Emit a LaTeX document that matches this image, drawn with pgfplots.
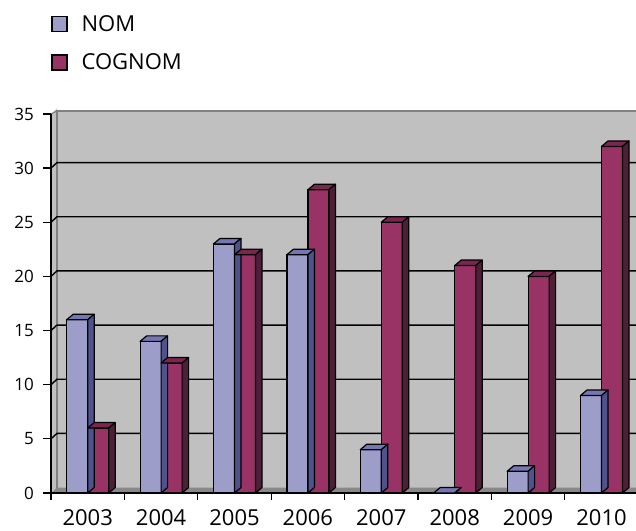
\documentclass[border=0pt]{standalone}
\usepackage{pgfplots}
\usepackage{pgfplotstable}
\pgfplotsset{compat=1.18}
\usepackage{fontspec}
\setmainfont{Open Sans}

\definecolor{nomfront}{RGB}{157,157,202}
\definecolor{nomtop}{RGB}{118,118,180}
\definecolor{nomside}{RGB}{80,82,140}
\definecolor{cogfront}{RGB}{153,51,102}
\definecolor{cogtop}{RGB}{122,38,80}
\definecolor{cogside}{RGB}{78,32,56}
\definecolor{wall}{RGB}{192,192,192}
\definecolor{walledge}{RGB}{128,128,128}
\definecolor{floorc}{RGB}{136,136,136}

\pgfplotstableread{
idx year nom cognom
0 2003 16 6
1 2004 14 12
2 2005 23 22
3 2006 22 28
4 2007 4 25
5 2008 0 21
6 2009 2 20
7 2010 9 32
}\data

\pgfdeclareplotmark{none3d}{}

\pgfplotsset{
  bar3d/.style n args={4}{% #1 column, #2 left edge (pt), #3 top colour, #4 side colour
    scatter, only marks, mark=none3d, forget plot,
    visualization depends on={\thisrow{#1} \as \yv},
    scatter/@pre marker code/.code={%
      \pgfmathsetmacro{\hh}{\yv*10.83}%
      \filldraw[fill=#3, draw=black, line width=1.2pt, line join=round]
        (#2pt,0pt) -- ++(6.5pt,5.5pt) -- ++(21pt,0pt) -- ++(-6.5pt,-5.5pt) -- cycle;
      \filldraw[fill=#4, draw=black, line width=1.2pt, line join=round]
        (#2pt+21pt,0pt) -- ++(6.5pt,5.5pt) -- ++(0pt,-\hh pt) -- ++(-6.5pt,-5.5pt) -- cycle;
    },
    scatter/@post marker code/.code={},
  }
}

\begin{document}
\begin{tikzpicture}
\begin{axis}[
  at={(0,0)}, anchor=south west,
  x=73.4pt, y=10.83pt,
  xmin=-0.5, xmax=7.5, ymin=0, ymax=35,
  clip=false,
  axis on top,
  axis x line*=bottom, axis y line*=left,
  axis line style={black, line width=1.2pt, -},
  ytick={0,5,...,35},
  xtick={0,...,7},
  xticklabels={2003,2004,2005,2006,2007,2008,2009,2010},
  x tick style={draw=none},
  y tick style={black, line width=1.2pt},
  tick align=outside,
  major tick length=8pt,
  extra x ticks={-0.5,0.5,...,7.5},
  extra x tick labels={},
  extra x tick style={tick align=outside, major tick length=7pt, x tick style={draw=black, line width=1.2pt}},
  /pgf/number format/assume math mode=true,
  yticklabel style={font=\fontsize{17}{17}\selectfont, inner sep=0pt, xshift=-9pt},
  xticklabel style={font=\fontsize{22}{22}\selectfont, inner sep=0pt, yshift=-8pt},
  legend style={at={(0,1.266)}, anchor=north west, draw=none, fill=none,
    inner sep=0pt, row sep=17pt, font=\fontsize{22}{22}\selectfont,
    legend cell align=left,
    /tikz/every odd column/.append style={column sep=12pt}},
]
% walls and floor
\fill[wall] (axis cs:-0.5,0) -- (axis cs:-0.5,35) -- ([shift={(6pt,5.5pt)}]axis cs:-0.5,35) -- ([shift={(6pt,5.5pt)}]axis cs:-0.5,0) -- cycle;
\fill[wall] ([shift={(6pt,5.5pt)}]axis cs:-0.5,0) rectangle ([shift={(6pt,3pt)}]axis cs:7.5,35);
\fill[floorc] (axis cs:-0.5,0) -- (axis cs:7.5,0) -- ([shift={(6pt,5.5pt)}]axis cs:7.5,0) -- ([shift={(6pt,5.5pt)}]axis cs:-0.5,0) -- cycle;
\draw[walledge, line width=1.4pt] ([shift={(6pt,5.5pt)}]axis cs:-0.5,0) -- ([shift={(6pt,3pt)}]axis cs:-0.5,35) -- ([shift={(6pt,3pt)}]axis cs:7.5,35);
\draw[walledge, line width=1.2pt] (axis cs:-0.5,35) -- ([shift={(6pt,3pt)}]axis cs:-0.5,35);
\pgfplotsinvokeforeach{5,10,15,20,25,30}{
  \draw[black, line width=1.4pt] (axis cs:-0.5,#1) -- ([shift={(6pt,5.5pt)}]axis cs:-0.5,#1) -- ([shift={(6pt,5.5pt)}]axis cs:7.5,#1);
}
% NOM
\addplot[ybar, bar width=21pt, bar shift=-10.5pt, fill=nomfront, draw=black, line width=1.2pt,
  legend image code/.code={\filldraw[fill=nomfront, draw=black, line width=1.4pt] (0pt,-7.5pt) rectangle (15pt,7.5pt);}]
  table[x=idx, y=nom] {\data};
\addlegendentry{NOM}
\addplot[bar3d={nom}{-21}{nomtop}{nomside}] table[x=idx, y=nom] {\data};
% COGNOM
\addplot[ybar, bar width=21pt, bar shift=10.5pt, fill=cogfront, draw=black, line width=1.2pt,
  legend image code/.code={\filldraw[fill=cogfront, draw=black, line width=1.4pt] (0pt,-7.5pt) rectangle (15pt,7.5pt);}]
  table[x=idx, y=cognom] {\data};
\addlegendentry{COGNOM}
\addplot[bar3d={cognom}{0}{cogtop}{cogside}] table[x=idx, y=cognom] {\data};
\end{axis}
\pgfresetboundingbox
\path (-51pt,-37pt) rectangle (585pt,493pt);
\end{tikzpicture}
\end{document}
